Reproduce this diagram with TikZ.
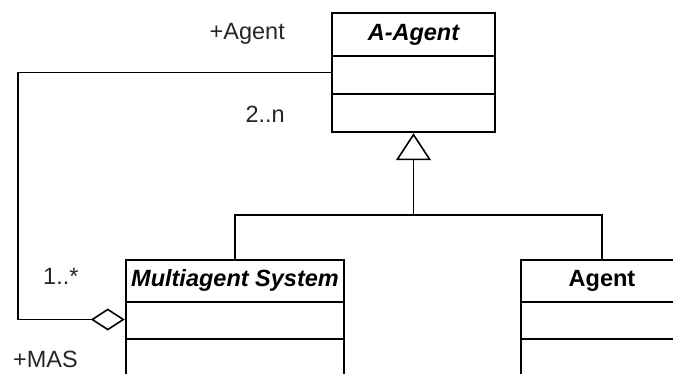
\documentclass[tikz,border=0pt]{standalone}
\usepackage{fontspec}
\setmainfont{Liberation Sans}
\usetikzlibrary{arrows.meta,calc}
\begin{document}
\begin{tikzpicture}[x=1pt,y=-1pt,
  classbox/.style={draw, line width=2.4pt, minimum width=#1, minimum height=119pt, inner sep=0pt},
  divider/.style={line width=2.4pt},
  classname/.style={anchor=base, inner sep=0pt, font=\fontsize{23.5}{28}\selectfont\bfseries},
  role/.style={inner sep=0pt, text=black!85, font=\fontsize{23.5}{28}\selectfont},
  link/.style={line width=1.6pt},
  inherit/.style={link, -{Triangle[open, length=27pt, width=35pt, line width=1.6pt]}},
  aggregate/.style={link, {Diamond[open, length=34pt, width=22pt, line width=1.6pt]}-}
]
\clip (0,0) rectangle (673,373);

% abstract base class
\node[classbox=163pt] (aagent) at (413.5,72.5) {};
\draw[divider] ($(aagent.north west)+(0,44)$) -- ($(aagent.north east)+(0,44)$);
\draw[divider] ($(aagent.north west)+(0,82)$) -- ($(aagent.north east)+(0,82)$);
\node[classname] (aagentname) at ($(aagent.north)+(0,29)$) {\itshape A-Agent};

% multiagent system class
\node[classbox=218pt] (mas) at (235,319.5) {};
\draw[divider] ($(mas.north west)+(0,43)$) -- ($(mas.north east)+(0,43)$);
\draw[divider] ($(mas.north west)+(0,80)$) -- ($(mas.north east)+(0,80)$);
\node[classname] (masname) at ($(mas.north)+(0,28)$) {\itshape Multiagent System};

% concrete agent class
\node[classbox=162pt] (agent) at (602,319.5) {};
\draw[divider] ($(agent.north west)+(0,43)$) -- ($(agent.north east)+(0,43)$);
\draw[divider] ($(agent.north west)+(0,80)$) -- ($(agent.north east)+(0,80)$);
\node[classname] (agentname) at ($(agent.north)+(0,28)$) {Agent};

% generalisation
\coordinate (junction) at (413.5,215);
\draw[link] (mas.north) |- (junction) -| (agent.north);
\draw[inherit] (junction) -- (aagent.south);

% aggregation
\coordinate (bend) at (18,319.5);
\draw[aggregate] (mas.west) -- (bend) |- (aagent.west);

% association end labels
\node[role, anchor=base east] (rAgent) at (285,39) {+Agent};
\node[role, anchor=base east] (mAgent) at (285,122) {2..n};
\node[role, anchor=base west] (mMAS) at (43,284) {1..*};
\node[role, anchor=base west] (rMAS) at (13,367) {+MAS};
\end{tikzpicture}
\end{document}
